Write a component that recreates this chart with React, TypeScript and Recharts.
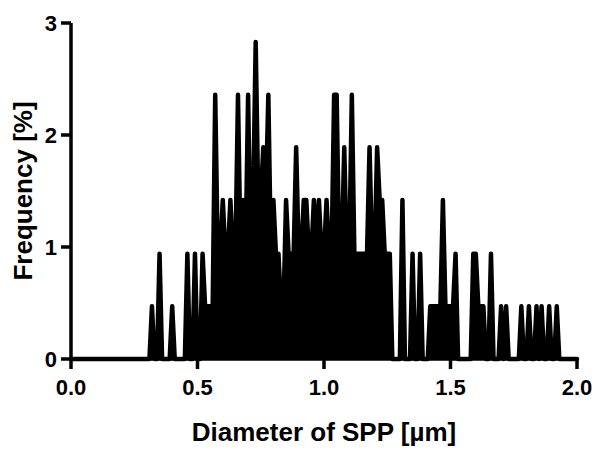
import { Area, AreaChart, XAxis, YAxis, Label } from "recharts";

const diameters = [
  0.0, 0.31, 0.32, 0.33, 0.34, 0.35, 0.36, 0.39, 0.4, 0.41,
  0.45, 0.46, 0.47, 0.48, 0.49, 0.5, 0.51, 0.52, 0.53, 0.54,
  0.55, 0.56, 0.57, 0.58, 0.59, 0.6, 0.61, 0.62, 0.63, 0.64,
  0.65, 0.66, 0.67, 0.68, 0.69, 0.7, 0.71, 0.72, 0.73, 0.74,
  0.75, 0.76, 0.77, 0.78, 0.79, 0.8, 0.81, 0.82, 0.83, 0.84,
  0.85, 0.86, 0.87, 0.88, 0.89, 0.9, 0.91, 0.92, 0.93, 0.94,
  0.95, 0.96, 0.97, 0.98, 0.99, 1.0, 1.01, 1.02, 1.03, 1.04,
  1.05, 1.06, 1.07, 1.08, 1.09, 1.1, 1.11, 1.12, 1.13, 1.14,
  1.15, 1.16, 1.17, 1.18, 1.19, 1.2, 1.21, 1.22, 1.23, 1.24,
  1.25, 1.26, 1.27, 1.3, 1.31, 1.32, 1.34, 1.35, 1.36, 1.37,
  1.38, 1.39, 1.41, 1.42, 1.43, 1.44, 1.45, 1.46, 1.47, 1.48,
  1.49, 1.5, 1.51, 1.52, 1.53, 1.58, 1.59, 1.6, 1.61, 1.62,
  1.63, 1.64, 1.65, 1.66, 1.67, 1.69, 1.7, 1.71, 1.72, 1.73,
  1.77, 1.78, 1.79, 1.8, 1.81, 1.82, 1.83, 1.84, 1.85, 1.86,
  1.87, 1.88, 1.89, 1.9, 1.91, 1.92, 1.93, 2.0,
];

const frequencies = [
  0, 0, 0.47, 0, 0, 0.94, 0, 0, 0.47, 0,
  0, 0.94, 0, 0, 0.94, 0, 0, 0.94, 0.47, 0.47,
  0.47, 0.47, 2.36, 0.94, 0.94, 1.42, 0.94, 0.94, 1.42, 0.94,
  0.94, 2.36, 0.94, 1.42, 0.94, 2.36, 0.94, 1.42, 2.83, 1.42,
  1.42, 1.89, 1.42, 2.36, 0.94, 1.42, 0.94, 0.94, 0.47, 0.47,
  1.42, 0.94, 0.94, 0.94, 1.89, 0.94, 0.94, 1.42, 1.42, 0.94,
  0.94, 1.42, 0.94, 1.42, 0.94, 0.94, 1.42, 0.94, 0.94, 2.36,
  2.36, 0.94, 0.94, 1.89, 0.94, 0.94, 2.36, 0.94, 0.94, 0.94,
  0.94, 0.94, 0.94, 1.89, 0.94, 0.94, 1.89, 1.42, 1.42, 0.94,
  0.94, 0.94, 0, 0, 1.42, 0, 0, 0.94, 0, 0,
  0.94, 0, 0, 0.47, 0.47, 0.47, 0.47, 0.47, 1.42, 0.47,
  0.47, 0.47, 0.47, 0.94, 0, 0, 0.94, 0.94, 0.47, 0.47,
  0.47, 0, 0, 0.94, 0, 0, 0.47, 0, 0.47, 0,
  0, 0.47, 0, 0, 0.47, 0, 0, 0.47, 0, 0.47,
  0, 0, 0.47, 0, 0, 0.47, 0, 0,
];

const xTicks = [0, 0.5, 1, 1.5, 2];
const yTicks = [0, 1, 2, 3];

const font = "'Liberation Sans', Arial, sans-serif";
const tickStyle = { fill: "#000", fontSize: 22, fontWeight: 700, fontFamily: font };

export default function App() {
  const data = diameters.map((d, i) => ({ d, f: frequencies[i] }));
  return (
    <div style={{ position: "absolute", left: 0, top: 0, background: "#fff" }}>
      <AreaChart width={600} height={455} data={data} margin={{ top: 23, right: 23, bottom: 0, left: 0 }}>
        <XAxis
          type="number"
          dataKey="d"
          domain={[0, 2]}
          ticks={xTicks}
          tickFormatter={(v: number) => v.toFixed(1)}
          height={96}
          tickSize={10}
          tickMargin={10}
          tick={tickStyle}
          axisLine={{ stroke: "#000", strokeWidth: 3.5 }}
          tickLine={{ stroke: "#000", strokeWidth: 3.5 }}
        >
          <Label
            value="Diameter of SPP [µm]"
            position="insideBottom"
            offset={14}
            style={{ fill: "#000", fontSize: 26, fontWeight: 700, fontFamily: font }}
          />
        </XAxis>
        <YAxis
          type="number"
          domain={[0, 3]}
          ticks={yTicks}
          width={71}
          tickSize={10}
          tickMargin={4}
          tick={tickStyle}
          axisLine={{ stroke: "#000", strokeWidth: 3.5 }}
          tickLine={{ stroke: "#000", strokeWidth: 3.5 }}
        >
          <Label
            content={(props: any) => {
              const vb = props.viewBox || { x: 0, y: 23, width: 71, height: 336 };
              const cx = 23;
              const cy = vb.y + vb.height / 2;
              return (
                <text
                  x={cx}
                  y={cy}
                  transform={`rotate(-90, ${cx}, ${cy})`}
                  textAnchor="middle"
                  dominantBaseline="central"
                  style={{ fill: "#000", fontSize: 26, fontWeight: 700, fontFamily: font }}
                >
                  Frequency [%]
                </text>
              );
            }}
          />
        </YAxis>
        <Area
          type="linear"
          dataKey="f"
          stroke="#000"
          strokeWidth={4.5}
          strokeLinejoin="round"
          strokeLinecap="round"
          fill="#000"
          fillOpacity={1}
          dot={false}
          activeDot={false}
          isAnimationActive={false}
        />
      </AreaChart>
    </div>
  );
}
